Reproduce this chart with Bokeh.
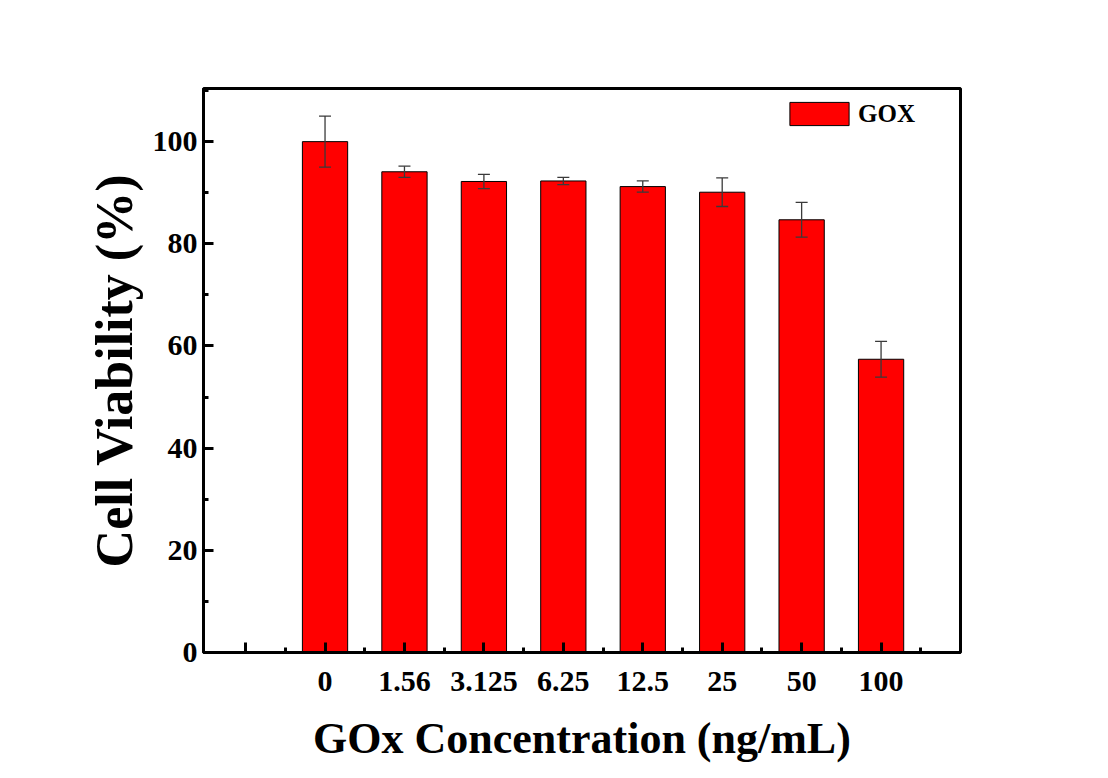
from bokeh.plotting import figure
from bokeh.models import (ColumnDataSource, Range1d, FixedTicker, SingleIntervalTicker,
                          Whisker, TeeHead, Legend, LegendItem)
from bokeh.embed import file_html
from bokeh.resources import INLINE

# ---- data ----
categories = ["0", "1.56", "3.125", "6.25", "12.5", "25", "50", "100"]
viability = [100.0, 94.1, 92.2, 92.3, 91.2, 90.1, 84.7, 57.4]
errors = [5.0, 1.1, 1.4, 0.7, 1.1, 2.8, 3.4, 3.5]
series_name = "GOX"
x_title = "GOx Concentration (ng/mL)"
y_title = "Cell Viability (%)"

positions = list(range(1, len(categories) + 1))
source = ColumnDataSource(dict(
    x=positions,
    top=viability,
    upper=[v + e for v, e in zip(viability, errors)],
    lower=[v - e for v, e in zip(viability, errors)],
))

FONT = "Liberation Serif"

p = figure(width=1100, height=770, output_backend="svg", toolbar_location=None,
           x_range=Range1d(-0.53, 9.0), y_range=Range1d(0, 110.4),
           min_border_left=203, min_border_right=140, min_border_top=88,
           min_border_bottom=118)
p.background_fill_color = "white"
p.border_fill_color = "white"
p.xgrid.visible = False
p.ygrid.visible = False
p.outline_line_color = "black"
p.outline_line_width = 3

bars = p.vbar(x="x", top="top", width=0.57, source=source,
              fill_color="#FF0000", line_color="black", line_width=1)

whisk = Whisker(source=source, base="x", upper="upper", lower="lower",
                line_color="#3a3a3a", line_width=1.3,
                upper_head=TeeHead(size=12, line_color="#3a3a3a", line_width=1.3),
                lower_head=TeeHead(size=12, line_color="#3a3a3a", line_width=1.3),
                level="annotation")
p.add_layout(whisk)

# x axis
xa = p.xaxis[0]
xa.ticker = FixedTicker(ticks=[0] + positions,
                        minor_ticks=[i + 0.5 for i in range(0, len(categories) + 1)])
overrides = {0: ""}
for pos, c in zip(positions, categories):
    overrides[pos] = c
xa.major_label_overrides = overrides
xa.axis_label = x_title

# y axis
ya = p.yaxis[0]
ya.ticker = SingleIntervalTicker(interval=20, num_minor_ticks=2)
ya.axis_label = y_title

for ax in (xa, ya):
    ax.axis_line_width = 3
    ax.axis_line_color = "black"
    ax.major_tick_in = 10
    ax.major_tick_out = 0
    ax.minor_tick_in = 5
    ax.minor_tick_out = 0
    ax.major_tick_line_width = 3
    ax.minor_tick_line_width = 3
    ax.major_tick_line_color = "black"
    ax.minor_tick_line_color = "black"
    ax.major_label_text_font = FONT
    ax.major_label_text_font_style = "bold"
    ax.major_label_text_font_size = "30px"
    ax.major_label_text_color = "black"
    ax.axis_label_text_font = FONT
    ax.axis_label_text_font_style = "bold"
    ax.axis_label_text_color = "black"

xa.major_label_standoff = 19
ya.major_label_standoff = 6
xa.axis_label_text_font_size = "44px"
xa.axis_label_standoff = 20
ya.axis_label_text_font_size = "52px"
ya.axis_label_standoff = 7

legend = Legend(items=[LegendItem(label=series_name, renderers=[bars])],
                location=(579, 524), padding=0, margin=0, spacing=0,
                glyph_width=74, glyph_height=29, label_standoff=2,
                label_text_font=FONT, label_text_font_style="bold",
                label_text_font_size="25px", label_text_color="black",
                border_line_color=None, background_fill_alpha=0)
p.add_layout(legend, "center")

open("out.html", "w").write(file_html(p, INLINE))
